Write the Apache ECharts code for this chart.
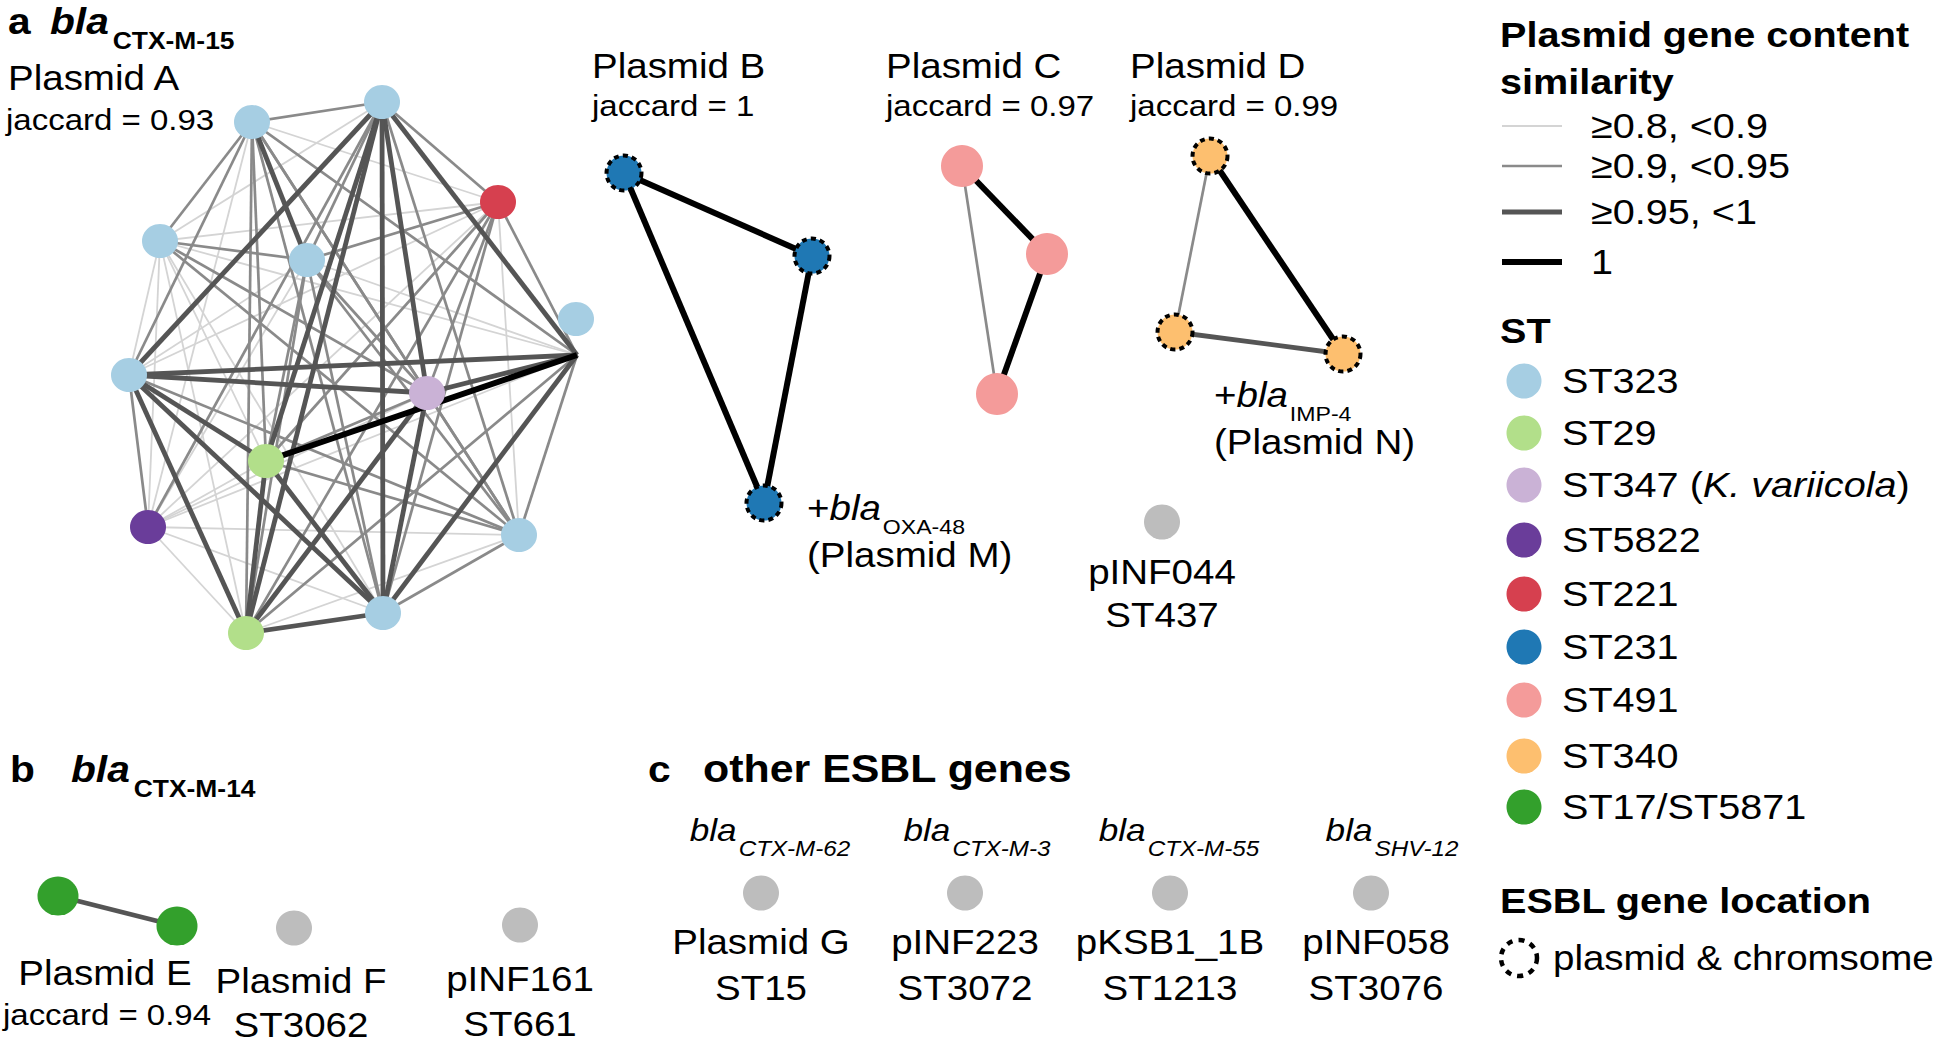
<!DOCTYPE html>
<html><head><meta charset="utf-8">
<script src="https://cdn.jsdelivr.net/npm/echarts@6/dist/echarts.min.js"></script>
<style>html,body{margin:0;padding:0;background:#fff}#c{width:1944px;height:1044px}</style>
</head><body><div id="c"></div>
<script>
// ================= DATA =================
const stTypes = ['ST323','ST29','ST347 (K. variicola)','ST5822','ST221','ST231','ST491','ST340','ST17/ST5871'];
const similarityLabels = ['≥0.8, <0.9','≥0.9, <0.95','≥0.95, <1','1'];

// nodes: [layoutX, layoutY, ST]
const plasmidA_nodes = [
  [252,122,'ST323'],[382,102,'ST323'],[498,202,'ST221'],[160,241,'ST323'],
  [307,260,'ST323'],[576,319,'ST323'],[129,375,'ST323'],[427,393,'ST347'],
  [266,461,'ST29'],[148,527,'ST5822'],[519,535,'ST323'],[383,613,'ST323'],
  [246,633,'ST29']
];
// edges of node 6 meet at this layout point
const plasmidA_anchor6 = [577,355];
// edges: [node, node, similarity class 1..4]
const plasmidA_edges = [
  [1,2,2],[1,3,1],[1,4,2],[1,5,3],[1,6,2],[1,7,2],[1,8,2],[1,9,2],[1,10,1],[1,11,2],[1,12,2],[1,13,2],
  [2,3,2],[2,4,1],[2,5,2],[2,6,3],[2,7,3],[2,8,3],[2,9,3],[2,10,2],[2,11,2],[2,12,3],[2,13,3],
  [3,4,1],[3,5,2],[3,6,2],[3,7,1],[3,8,2],[3,9,2],[3,10,1],[3,11,1],[3,12,2],[3,13,2],
  [4,5,2],[4,6,1],[4,7,1],[4,8,2],[4,9,1],[4,10,1],[4,11,2],[4,12,1],[4,13,1],
  [5,6,1],[5,7,1],[5,8,2],[5,9,2],[5,10,1],[5,11,2],[5,12,2],[5,13,2],
  [6,7,3],[6,8,3],[6,9,4],[6,10,1],[6,11,2],[6,12,3],[6,13,2],
  [7,8,3],[7,9,3],[7,10,2],[7,11,2],[7,12,3],[7,13,3],
  [8,9,2],[8,10,1],[8,11,2],[8,12,3],[8,13,3],
  [9,10,1],[9,11,2],[9,12,3],[9,13,3],
  [10,11,1],[10,12,1],[10,13,1],
  [11,12,2],[11,13,1],
  [12,13,3]
];
const plasmidB_nodes = [[624,173,'ST231'],[812,256,'ST231'],[764,503,'ST231']];
const plasmidB_edges = [[1,2,4],[1,3,4],[2,3,4]];
const plasmidC_nodes = [[962,166,'ST491'],[1047,254,'ST491'],[997,394,'ST491']];
const plasmidC_edges = [[1,3,2],[1,2,4],[2,3,4]];
const plasmidD_nodes = [[1210,156,'ST340'],[1175,332,'ST340'],[1343,354,'ST340']];
const plasmidD_edges = [[1,2,2],[2,3,3],[1,3,4]];
const plasmidE_nodes = [[58,896,'ST17/ST5871'],[177,926,'ST17/ST5871']];
const plasmidE_edges = [[1,2,3]];
const singleton_nodes = [[1162,522,'other'],[294,928,'other'],[520,925,'other'],
  [761,893,'other'],[965,893,'other'],[1170,893,'other'],[1371,893,'other']];

const clusterTitles = ['Plasmid A','Plasmid B','Plasmid C','Plasmid D'];
const clusterJaccard = ['jaccard = 0.93','jaccard = 1','jaccard = 0.97','jaccard = 0.99'];
const otherGenes = [['bla','CTX-M-62'],['bla','CTX-M-3'],['bla','CTX-M-55'],['bla','SHV-12']];
const otherNames = [['Plasmid G','ST15'],['pINF223','ST3072'],['pKSB1_1B','ST1213'],['pINF058','ST3076']];

// ================= STYLES =================
const ST_COLORS = {ST323:'#a6cee3',ST29:'#b2df8a',ST347:'#cab2d6',ST5822:'#6a3d9a',ST221:'#d6404f',
  ST231:'#1f78b4',ST491:'#f49b9a',ST340:'#fdbf6f','ST17/ST5871':'#33a02c',other:'#bdbdbd'};
const LEGEND_COLORS = ['#a6cee3','#b2df8a','#cab2d6','#6a3d9a','#d6404f','#1f78b4','#f49b9a','#fdbf6f','#33a02c'];
const CLASS_STYLE = [null,{color:'#d4d4d4',width:1.8},{color:'#8a8a8a',width:2.7},{color:'#555555',width:4.8},{color:'#000000',width:6}];

// ================= GRAPH =================
const gNodes = [], gLinks = [];
function addCluster(nodes, edges, opts){
  const base = gNodes.length;
  const ends = nodes.map((n,i)=>{
    const it = {color: ST_COLORS[n[2]]};
    if (opts.dashed){ it.borderColor='#000'; it.borderWidth=4; it.borderType=[5,4]; }
    gNodes.push({value:[n[0],n[1]], symbolSize: opts.size, itemStyle: it});
    return base+i;
  });
  if (opts.anchors){
    for (const k in opts.anchors){
      gNodes.push({value: opts.anchors[k], symbolSize: 1, itemStyle:{opacity:0}});
      ends[k-1] = gNodes.length-1;
    }
  }
  edges.forEach(e=>gLinks.push({source: ends[e[0]-1], target: ends[e[1]-1], cls: e[2]}));
}
addCluster(plasmidA_nodes, plasmidA_edges, {size:[36,34], anchors:{6: plasmidA_anchor6}});
addCluster(plasmidB_nodes, plasmidB_edges, {size:[35,35], dashed:true});
addCluster(plasmidC_nodes, plasmidC_edges, {size:[42,42]});
addCluster(plasmidD_nodes, plasmidD_edges, {size:[35,35], dashed:true});
addCluster(plasmidE_nodes, plasmidE_edges, {size:[41,39]});
addCluster(singleton_nodes, [], {size:[36,35]});
const links = gLinks.slice().sort((a,b)=>a.cls-b.cls).map(l=>({
  source:l.source, target:l.target,
  lineStyle:{color:CLASS_STYLE[l.cls].color, width:CLASS_STYLE[l.cls].width, opacity:1, curveness:0}
}));

// ================= TEXT =================
const FONT = '"Liberation Sans", Arial, Helvetica, sans-serif';
const SX = 1.1;
const ctx = document.createElement('canvas').getContext('2d');
function fstr(s){ return (s.i?'italic ':'normal ')+(s.b?'bold ':'normal ')+s.sz+'px '+FONT; }
function measure(t,s){ ctx.font = fstr(s); return ctx.measureText(t).width*SX; }
const G = [];
function txt(x,y,t,s,align){
  G.push({type:'text', x:x, y:y, scaleX:SX, silent:true, z:10,
    style:{text:t, fontSize:s.sz, fontFamily:FONT, fontWeight:s.b?'bold':'normal',
      fontStyle:s.i?'italic':'normal', fill:'#000', align:align||'left', verticalAlign:'middle'}});
}
// segs: [text, style, dy, gapBefore]
function seq(x,y,segs,align){
  const w = segs.map(g=>measure(g[0],g[1])+(g[3]||0));
  const tot = w.reduce((a,b)=>a+b,0);
  let cx = align==='center' ? x-tot/2 : x;
  segs.forEach((g,i)=>{ txt(cx+(g[3]||0), y+(g[2]||0), g[0], g[1], 'left'); cx += w[i]; });
}
const T_B = {sz:37,b:true}, T_BI = {sz:37,b:true,i:true}, T_SUB = {sz:24,b:true};
const NAME = {sz:35}, NAME_I = {sz:35,i:true}, JAC = {sz:30}, SUB = {sz:21};
const LT = {sz:36,b:true}, LL = {sz:36}, LLI = {sz:36,i:true};

// panel a
txt(8,21,'a',T_B);
seq(50,21,[['bla',T_BI],['CTX-M-15',T_SUB,19,4]]);
const titlePos = [[8,78,6,120],[592,66,592,106],[886,66,886,106],[1130,66,1130,106]];
clusterTitles.forEach((t,i)=>{ txt(titlePos[i][0],titlePos[i][1],t,NAME); txt(titlePos[i][2],titlePos[i][3],clusterJaccard[i],JAC); });
seq(807,508,[['+',NAME],['bla',NAME_I],['OXA-48',SUB,19,2]]);
txt(807,555,'(Plasmid M)',NAME);
seq(1214,395,[['+',NAME],['bla',NAME_I],['IMP-4',SUB,19,2]]);
txt(1214,442,'(Plasmid N)',NAME);
txt(1162,572,'pINF044',NAME,'center');
txt(1162,615,'ST437',NAME,'center');

// panel b
txt(10,769,'b',T_B);
seq(71,769,[['bla',T_BI],['CTX-M-14',T_SUB,19,4]]);
txt(105,973,'Plasmid E',NAME,'center');
txt(107,1015,'jaccard = 0.94',JAC,'center');
txt(301,981,'Plasmid F',NAME,'center');
txt(301,1025,'ST3062',NAME,'center');
txt(520,979,'pINF161',NAME,'center');
txt(520,1024,'ST661',NAME,'center');

// panel c
txt(648,769,'c',T_B);
txt(703,769,'other ESBL genes',{sz:39,b:true});
const geneCx = [770,977,1179,1392];
otherGenes.forEach((g,i)=>seq(geneCx[i],830,[[g[0],{sz:32,i:true}],[g[1],{sz:22,i:true},18,2]],'center'));
const nameCx = [761,965,1170,1376];
otherNames.forEach((n,i)=>{ txt(nameCx[i],942,n[0],NAME,'center'); txt(nameCx[i],988,n[1],NAME,'center'); });

// legend
txt(1500,35,'Plasmid gene content',LT);
txt(1500,82,'similarity',LT);
const simY = [126,166,212,262];
similarityLabels.forEach((l,i)=>{
  G.push({type:'line', silent:true, shape:{x1:1502,y1:simY[i],x2:1562,y2:simY[i]},
    style:{stroke:CLASS_STYLE[i+1].color, lineWidth:CLASS_STYLE[i+1].width}});
  txt(1591,simY[i],l,LL);
});
txt(1500,331,'ST',LT);
const stY = [381,433,485,540,594,647,700,756,807];
stTypes.forEach((s,i)=>{
  G.push({type:'circle', silent:true, shape:{cx:1524,cy:stY[i],r:17.5}, style:{fill:LEGEND_COLORS[i]}});
  if (i===2) seq(1562,stY[i],[['ST347 (',LL],['K. variicola',LLI],[')',LL]]);
  else txt(1562,stY[i],s,LL);
});
txt(1500,901,'ESBL gene location',LT);
G.push({type:'circle', silent:true, shape:{cx:1519,cy:958,r:18}, style:{fill:'none',stroke:'#000',lineWidth:4.5,lineDash:[6,6]}});
txt(1553,958,'plasmid & chromsome',{sz:35});

// ================= CHART =================
const chart = echarts.init(document.getElementById('c'), null, {renderer:'svg'});
chart.setOption({
  animation:false,
  backgroundColor:'#fff',
  grid:{left:0,right:0,top:0,bottom:0},
  xAxis:{type:'value',min:0,max:1944,show:false},
  yAxis:{type:'value',min:0,max:1044,inverse:true,show:false},
  series:[{
    type:'graph', layout:'none', coordinateSystem:'cartesian2d',
    silent:true, emphasis:{disabled:true},
    data:gNodes, links:links, label:{show:false},
    lineStyle:{opacity:1}
  }],
  graphic:G
});
</script></body></html>
